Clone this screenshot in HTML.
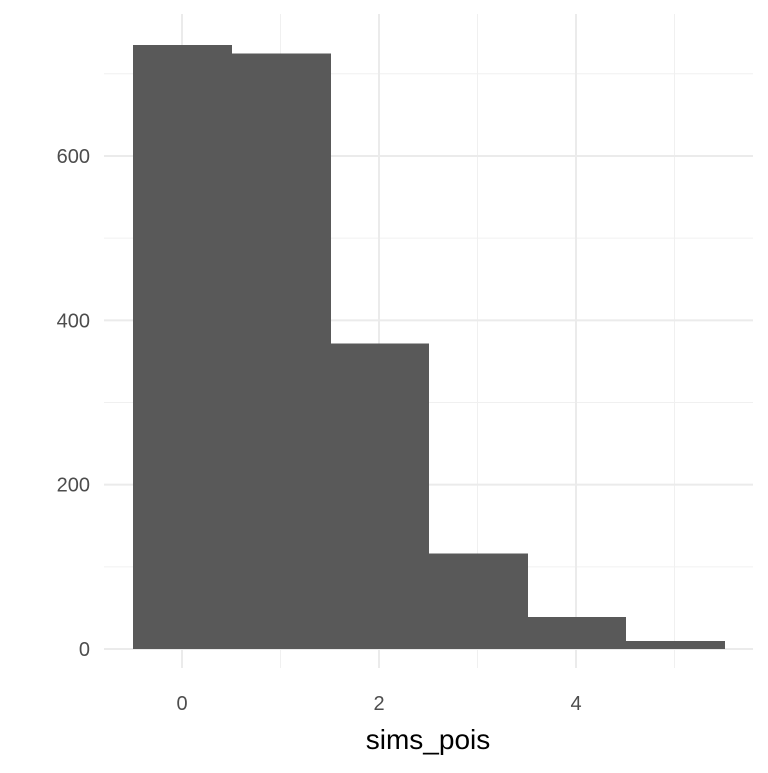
<!DOCTYPE html>
<html><head><meta charset="utf-8"><style>
body{margin:0;background:#fff;}
svg text{font-family:"Liberation Sans",sans-serif;}
</style></head><body>
<svg id="chart" width="768" height="768" xmlns="http://www.w3.org/2000/svg">
<rect width="768" height="768" fill="#fff"/>
<g id="grid"></g><g id="bars" shape-rendering="crispEdges"></g><g id="axes"></g>
<text x="428" y="749" font-size="28" text-anchor="middle" fill="#000">sims_pois</text>
</svg>
<script>
const binCenters=[0,1,2,3,4,5];
const counts=[735,725,372,116,39,10];
const xTicks=[0,2,4];
const yTicks=[0,200,400,600];
const yMinor=[100,300,500,700];
const xMinor=[1,3,5];
const X=v=>182+v*98.5;
const Y=v=>649-v*0.8217;
const ns="http://www.w3.org/2000/svg";
function mk(t,a,p){const e=document.createElementNS(ns,t);for(const k in a)e.setAttribute(k,a[k]);p.appendChild(e);return e;}
const grid=document.getElementById('grid'),bars=document.getElementById('bars'),axes=document.getElementById('axes');
yMinor.forEach(v=>{const l=mk('line',{x1:104,x2:753,y1:Y(v),y2:Y(v),stroke:'#f0f0f0','stroke-width':1},grid);

});
xMinor.forEach(v=>{const l=mk('line',{x1:X(v),x2:X(v),y1:14,y2:668,stroke:'#f0f0f0','stroke-width':1},grid);

});
yTicks.forEach(v=>{const l=mk('line',{x1:104,x2:753,y1:Y(v),y2:Y(v),stroke:'#ebebeb','stroke-width':2},grid);


const t=mk('text',{x:90,y:Y(v)+7,'font-size':20,'text-anchor':'end',fill:'#4d4d4d'},axes);t.textContent=v;

});
xTicks.forEach(v=>{const l=mk('line',{x1:X(v),x2:X(v),y1:14,y2:668,stroke:'#ebebeb','stroke-width':2},grid);


const t=mk('text',{x:X(v),y:710,'font-size':20,'text-anchor':'middle',fill:'#4d4d4d'},axes);t.textContent=v;

});
binCenters.forEach((c,i)=>{const r=mk('rect',{x:Math.round(X(c-0.5)),y:Y(counts[i]),width:Math.round(X(c+0.5))-Math.round(X(c-0.5))+1,height:Y(0)-Y(counts[i]),fill:'#595959'},bars);

});
</script>
</body></html>
